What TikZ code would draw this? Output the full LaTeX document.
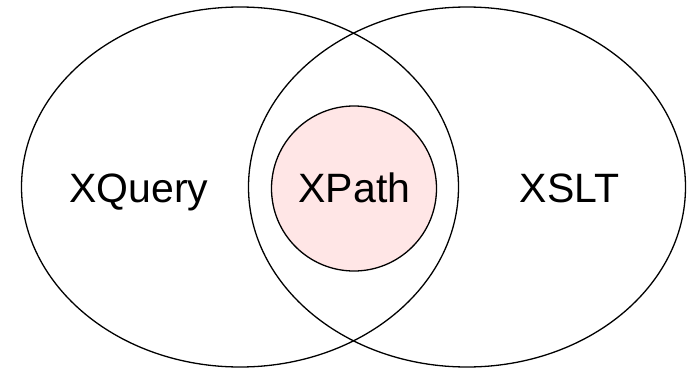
\documentclass[tikz,border=0pt]{standalone}
\usepackage{fontspec}
\setmainfont{Liberation Sans}
\definecolor{xpathfill}{HTML}{FFE6E6}
\begin{document}
\begin{tikzpicture}[x=1pt,y=-1pt,
  set/.style={draw=black,line width=1.3pt},
  lbl/.style={font=\fontsize{41}{44}\selectfont,inner sep=0pt,anchor=base}]
\useasboundingbox (0,0) rectangle (688,369);
% the two overlapping sets
\draw[set] (240,187) ellipse [x radius=218.5, y radius=180];
\draw[set] (467,187) ellipse [x radius=218.5, y radius=180];
% XPath sits inside both
\draw[set,fill=xpathfill] (354,188.5) circle [radius=82.5];
\node[lbl] (xquery) at (138.7,202.7) {XQuery};
\node[lbl] (xpath) at (354.4,202.7) {XPath};
\node[lbl] (xslt) at (569.7,202.7) {XSLT};
\end{tikzpicture}
\end{document}
